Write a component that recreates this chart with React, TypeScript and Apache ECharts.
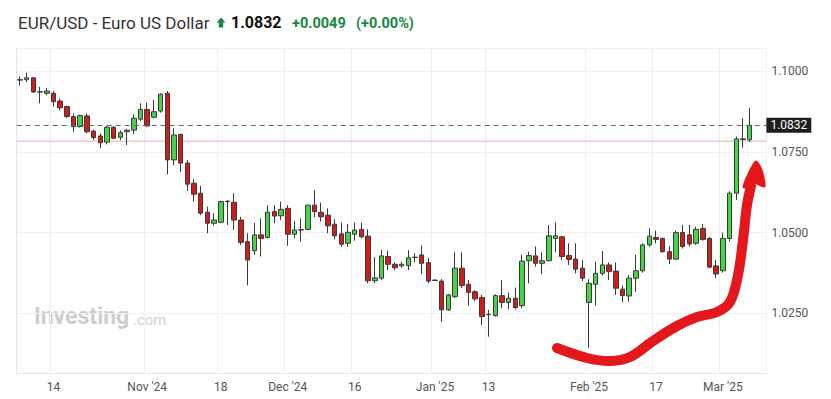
import React, { useEffect, useRef } from 'react';
import * as echarts from 'echarts';

// Trading days (weekdays), Oct 7 2024 – Mar 7 2025, plus two empty slots of right margin
const dates = [
  '2024-10-07','2024-10-08','2024-10-09','2024-10-10','2024-10-11','2024-10-14','2024-10-15','2024-10-16','2024-10-17','2024-10-18',
  '2024-10-21','2024-10-22','2024-10-23','2024-10-24','2024-10-25','2024-10-28','2024-10-29','2024-10-30','2024-10-31','2024-11-01',
  '2024-11-04','2024-11-05','2024-11-06','2024-11-07','2024-11-08','2024-11-11','2024-11-12','2024-11-13','2024-11-14','2024-11-15',
  '2024-11-18','2024-11-19','2024-11-20','2024-11-21','2024-11-22','2024-11-25','2024-11-26','2024-11-27','2024-11-28','2024-11-29',
  '2024-12-02','2024-12-03','2024-12-04','2024-12-05','2024-12-06','2024-12-09','2024-12-10','2024-12-11','2024-12-12','2024-12-13',
  '2024-12-16','2024-12-17','2024-12-18','2024-12-19','2024-12-20','2024-12-23','2024-12-24','2024-12-25','2024-12-26','2024-12-27',
  '2024-12-30','2024-12-31','2025-01-01','2025-01-02','2025-01-03','2025-01-06','2025-01-07','2025-01-08','2025-01-09','2025-01-10',
  '2025-01-13','2025-01-14','2025-01-15','2025-01-16','2025-01-17','2025-01-20','2025-01-21','2025-01-22','2025-01-23','2025-01-24',
  '2025-01-27','2025-01-28','2025-01-29','2025-01-30','2025-01-31','2025-02-03','2025-02-04','2025-02-05','2025-02-06','2025-02-07',
  '2025-02-10','2025-02-11','2025-02-12','2025-02-13','2025-02-14','2025-02-17','2025-02-18','2025-02-19','2025-02-20','2025-02-21',
  '2025-02-24','2025-02-25','2025-02-26','2025-02-27','2025-02-28','2025-03-03','2025-03-04','2025-03-05','2025-03-06','2025-03-07',
  '2025-03-10','2025-03-11',
];

const opens = [
  1.0972, 1.0973, 1.0979, 1.0936, 1.0931, 1.0931, 1.0907, 1.0890, 1.0859, 1.0828,
  1.0861, 1.0814, 1.0799, 1.0780, 1.0826, 1.0795, 1.0812, 1.0817, 1.0851, 1.0881,
  1.0857, 1.0876, 1.0931, 1.0725, 1.0804, 1.0715, 1.0653, 1.0622, 1.0563, 1.0529,
  1.0532, 1.0597, 1.0594, 1.0539, 1.0472, 1.0444, 1.0493, 1.0485, 1.0565, 1.0552,
  1.0575, 1.0495, 1.0509, 1.0510, 1.0585, 1.0563, 1.0554, 1.0526, 1.0496, 1.0467,
  1.0495, 1.0510, 1.0489, 1.0351, 1.0359, 1.0426, 1.0402, 1.0397, 1.0398, 1.0423,
  1.0431, 1.0407, 1.0353, 1.0350, 1.0261, 1.0302, 1.0390, 1.0340, 1.0317, 1.0299,
  1.0246, 1.0243, 1.0305, 1.0284, 1.0297, 1.0274, 1.0413, 1.0428, 1.0405, 1.0413,
  1.0482, 1.0487, 1.0429, 1.0418, 1.0390, 1.0284, 1.0340, 1.0374, 1.0400, 1.0381,
  1.0325, 1.0304, 1.0359, 1.0382, 1.0462, 1.0485, 1.0482, 1.0441, 1.0418, 1.0500,
  1.0493, 1.0467, 1.0513, 1.0482, 1.0397, 1.0382, 1.0482, 1.0622, 1.0790, 1.0787,
];

const closes = [
  1.0973, 1.0979, 1.0935, 1.0935, 1.0938, 1.0905, 1.0886, 1.0859, 1.0828, 1.0862,
  1.0812, 1.0794, 1.0778, 1.0826, 1.0792, 1.0809, 1.0817, 1.0854, 1.0881, 1.0830,
  1.0874, 1.0928, 1.0725, 1.0802, 1.0715, 1.0650, 1.0619, 1.0560, 1.0529, 1.0539,
  1.0596, 1.0596, 1.0539, 1.0470, 1.0415, 1.0493, 1.0482, 1.0563, 1.0551, 1.0572,
  1.0495, 1.0508, 1.0508, 1.0585, 1.0565, 1.0549, 1.0521, 1.0490, 1.0464, 1.0501,
  1.0508, 1.0487, 1.0351, 1.0360, 1.0428, 1.0402, 1.0391, 1.0402, 1.0422, 1.0424,
  1.0405, 1.0350, 1.0352, 1.0261, 1.0307, 1.0390, 1.0336, 1.0315, 1.0295, 1.0240,
  1.0247, 1.0305, 1.0284, 1.0297, 1.0268, 1.0412, 1.0429, 1.0405, 1.0413, 1.0490,
  1.0490, 1.0426, 1.0417, 1.0387, 1.0359, 1.0343, 1.0374, 1.0400, 1.0379, 1.0328,
  1.0305, 1.0359, 1.0382, 1.0462, 1.0489, 1.0479, 1.0441, 1.0418, 1.0500, 1.0457,
  1.0465, 1.0510, 1.0479, 1.0393, 1.0372, 1.0482, 1.0622, 1.0790, 1.0788, 1.0832,
];

const lows = [
  1.0955, 1.0965, 1.0932, 1.0900, 1.0925, 1.0890, 1.0879, 1.0854, 1.0812, 1.0825,
  1.0807, 1.0786, 1.0761, 1.0773, 1.0790, 1.0786, 1.0771, 1.0805, 1.0845, 1.0828,
  1.0854, 1.0871, 1.0680, 1.0709, 1.0687, 1.0629, 1.0596, 1.0554, 1.0498, 1.0522,
  1.0529, 1.0524, 1.0508, 1.0462, 1.0337, 1.0431, 1.0426, 1.0482, 1.0529, 1.0539,
  1.0459, 1.0482, 1.0472, 1.0508, 1.0547, 1.0534, 1.0498, 1.0479, 1.0456, 1.0456,
  1.0475, 1.0482, 1.0343, 1.0343, 1.0353, 1.0384, 1.0384, 1.0391, 1.0384, 1.0408,
  1.0371, 1.0343, 1.0350, 1.0224, 1.0258, 1.0297, 1.0328, 1.0274, 1.0288, 1.0214,
  1.0178, 1.0240, 1.0266, 1.0263, 1.0263, 1.0266, 1.0343, 1.0395, 1.0371, 1.0411,
  1.0439, 1.0415, 1.0400, 1.0374, 1.0350, 1.0144, 1.0274, 1.0367, 1.0353, 1.0307,
  1.0284, 1.0286, 1.0317, 1.0376, 1.0456, 1.0467, 1.0438, 1.0403, 1.0415, 1.0451,
  1.0457, 1.0462, 1.0475, 1.0390, 1.0359, 1.0376, 1.0472, 1.0601, 1.0763, 1.0781,
];

const highs = [
  1.0983, 1.0995, 1.0981, 1.0951, 1.0948, 1.0938, 1.0915, 1.0893, 1.0869, 1.0865,
  1.0869, 1.0819, 1.0807, 1.0830, 1.0830, 1.0816, 1.0821, 1.0866, 1.0900, 1.0902,
  1.0910, 1.0931, 1.0938, 1.0823, 1.0805, 1.0725, 1.0666, 1.0645, 1.0580, 1.0560,
  1.0599, 1.0601, 1.0622, 1.0549, 1.0498, 1.0530, 1.0544, 1.0585, 1.0585, 1.0596,
  1.0585, 1.0536, 1.0544, 1.0586, 1.0632, 1.0593, 1.0575, 1.0541, 1.0531, 1.0527,
  1.0531, 1.0531, 1.0510, 1.0424, 1.0446, 1.0444, 1.0408, 1.0410, 1.0446, 1.0436,
  1.0460, 1.0422, 1.0355, 1.0356, 1.0310, 1.0439, 1.0439, 1.0353, 1.0322, 1.0307,
  1.0261, 1.0309, 1.0353, 1.0315, 1.0330, 1.0431, 1.0441, 1.0457, 1.0439, 1.0523,
  1.0532, 1.0490, 1.0467, 1.0467, 1.0415, 1.0356, 1.0410, 1.0443, 1.0408, 1.0408,
  1.0336, 1.0369, 1.0431, 1.0467, 1.0513, 1.0506, 1.0485, 1.0459, 1.0506, 1.0524,
  1.0524, 1.0518, 1.0527, 1.0487, 1.0415, 1.0500, 1.0628, 1.0797, 1.0854, 1.0886,
];

const tickDates = ['2024-10-14', '2024-11-01', '2024-11-18', '2024-12-02', '2024-12-16', '2025-01-01', '2025-01-13', '2025-02-03', '2025-02-17', '2025-03-03'];
const tickLabels = ['14', "Nov '24", '18', "Dec '24", '16', "Jan '25", '13', "Feb '25", '17', "Mar '25"];

const lastPrice = 1.0832;
const prevClose = 1.0783;
const change = '+0.0049';
const changePct = '(+0.00%)';

const FONT = 'Roboto, "Noto Sans", Arial, sans-serif';
const PINK = '#f2a9a9';
const DASH = '#666666';

export default function App() {
  const ref = useRef<HTMLDivElement>(null);

  useEffect(() => {
    document.body.style.margin = '0';
    const chart = echarts.init(ref.current!, null, { renderer: 'svg' });
    const candles = opens.map((o, i) => [o, closes[i], lows[i], highs[i]]);
    const tickSet = new Set(tickDates);
    const labelMap: Record<string, string> = {};
    tickDates.forEach((d, i) => (labelMap[d] = tickLabels[i]));

    chart.setOption({
      animation: false,
      backgroundColor: '#ffffff',
      grid: { left: 16.65, right: 64.6, top: 48, bottom: 26, containLabel: false, outerBoundsMode: 'none' },
      xAxis: [
        {
          type: 'category',
          data: dates,
          boundaryGap: true,
          axisLine: { show: true, lineStyle: { color: '#e4e4e4', width: 1 } },
          axisTick: { show: false },
          axisLabel: {
            interval: (_i: number, v: string) => tickSet.has(v),
            formatter: (v: string) => labelMap[v] ?? '',
            color: '#555555',
            fontSize: 12,
            fontFamily: FONT,
            margin: 8,
          },
          splitLine: {
            show: true,
            interval: (_i: number, v: string) => tickSet.has(v),
            lineStyle: { color: '#f0f0f0', width: 1 },
          },
        },
        {
          // hidden full-width helper axis for the previous-close reference line
          type: 'value',
          min: 0,
          max: 1,
          show: false,
        },
      ],
      yAxis: {
        type: 'value',
        position: 'right',
        min: 1.00656,
        max: 1.10712,
        splitNumber: 4,
        minInterval: 0.025,
        maxInterval: 0.025,
        scale: true,
        axisLine: { show: true, lineStyle: { color: '#e4e4e4', width: 1 } },
        axisTick: { show: false },
        axisLabel: {
          formatter: (v: number) => v.toFixed(4),
          color: '#555555',
          fontSize: 12,
          fontFamily: FONT,
          margin: 5,
          showMinLabel: false,
          showMaxLabel: false,
        },
        splitLine: { show: true, lineStyle: { color: '#f0f0f0', width: 1 } },
      },
      series: [
        {
          type: 'line',
          name: 'Previous close',
          xAxisIndex: 1,
          yAxisIndex: 0,
          data: [[0, prevClose], [1, prevClose]],
          symbol: 'none',
          silent: true,
          z: 1,
          color: PINK,
          lineStyle: { color: PINK, width: 1, type: 'solid' },
        },
        {
          type: 'candlestick',
          data: candles,
          barWidth: 5,
          xAxisIndex: 0,
          z: 3,
          itemStyle: {
            color: '#45d445',
            color0: '#d21b1b',
            borderColor: '#3a3a3a',
            borderColor0: '#3a3a3a',
            borderColorDoji: '#3a3a3a',
            borderWidth: 1,
          },
          markLine: {
            silent: true,
            precision: 4,
            symbol: ['none', 'none'],
            data: [
              {
                yAxis: lastPrice,
                lineStyle: { color: DASH, type: [5, 4], width: 1, opacity: 1 },
                label: {
                  show: true,
                  position: 'end',
                  distance: 0,
                  formatter: lastPrice.toFixed(4),
                  color: '#ffffff',
                  backgroundColor: '#1e1e1e',
                  padding: [2, 4, 1, 4],
                  fontSize: 12,
                  fontFamily: FONT,
                },
              },
            ],
          },
        },
      ],
      graphic: [
        {
          type: 'text',
          left: 18,
          top: 14,
          style: { text: 'EUR/USD - Euro US Dollar', fill: '#333333', fontSize: 17, fontFamily: FONT },
        },
        {
          type: 'polygon',
          shape: { points: [[216.5, 22.5], [221, 17.5], [225.5, 22.5], [223.2, 22.5], [223.2, 27.5], [218.8, 27.5], [218.8, 22.5]] },
          style: { fill: '#13893f' },
        },
        {
          type: 'text',
          left: 231,
          top: 14.5,
          style: { text: lastPrice.toFixed(4), fill: '#111111', fontSize: 16, fontWeight: 'bold', fontFamily: FONT },
        },
        {
          type: 'text',
          left: 292,
          top: 15.5,
          style: { text: change, fill: '#13893f', fontSize: 14.5, fontWeight: 'bold', fontFamily: FONT },
        },
        {
          type: 'text',
          left: 356,
          top: 15.5,
          style: { text: changePct, fill: '#13893f', fontSize: 14.5, fontWeight: 'bold', fontFamily: FONT },
        },
        {
          type: 'text',
          left: 34,
          top: 305,
          style: { text: 'Investing', fill: '#cdcdcd', fontSize: 23, fontWeight: 'bold', fontFamily: FONT },
        },
        {
          type: 'text',
          left: 133,
          top: 312,
          style: { text: '.com', fill: '#d2d2d2', fontSize: 15, fontFamily: FONT },
        },
        {
          type: 'polyline',
          z: 100,
          shape: {
            smooth: 0.35,
            points: [
              [557, 348], [587, 358], [610, 361], [630, 357], [653, 341], [677, 326],
              [697, 317], [717, 312], [730, 302], [738, 275], [743, 240], [747, 205], [751, 186],
            ],
          },
          style: { stroke: '#e3171c', lineWidth: 10, lineCap: 'round', lineJoin: 'round', fill: 'none' },
        },
        {
          type: 'polygon',
          z: 101,
          shape: { points: [[744, 187], [750, 172], [756, 162], [761, 170], [764, 186], [754, 182]], smooth: 0.2 },
          style: { fill: '#e3171c', stroke: '#e3171c', lineWidth: 3, lineJoin: 'round' },
        },
      ],
    });

    return () => chart.dispose();
  }, []);

  return (
    <div
      ref={ref}
      style={{ position: 'absolute', left: 0, top: 0, width: 831, height: 399, background: '#ffffff' }}
    />
  );
}
